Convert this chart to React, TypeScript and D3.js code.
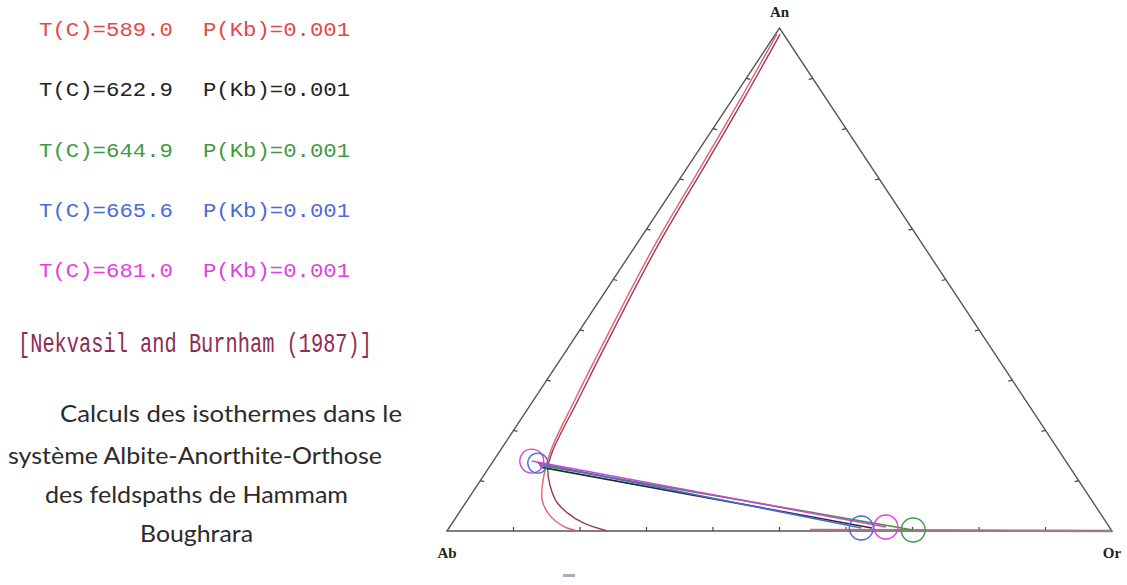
import React from 'react';
import * as d3 from 'd3';

// isotherm labels (T in C, P in kbar)
const temps = ['589.0', '622.9', '644.9', '665.6', '681.0'];
const pressures = ['0.001', '0.001', '0.001', '0.001', '0.001'];
const seriesColors = ['#e4474b', '#222222', '#3f9a3f', '#4a6cd4', '#e03fe0'];

// solvus curves, points as [An, Or] fractions
const curveOuter: [number, number][] = [
  [0.988, 0.002], [0.857, 0.012], [0.738, 0.019], [0.559, 0.029], [0.36, 0.05],
  [0.26, 0.062], [0.161, 0.076], [0.101, 0.094], [0.062, 0.112], [0.032, 0.138],
  [0.008, 0.173], [0, 0.197],
];
const curveInner: [number, number][] = [
  [0.988, 0.007], [0.857, 0.017], [0.738, 0.024], [0.559, 0.034], [0.36, 0.055],
  [0.26, 0.067], [0.161, 0.079], [0.121, 0.091], [0.062, 0.132], [0.036, 0.163],
  [0.016, 0.197], [0, 0.241],
];
// K-feldspar limb along the Ab-Or join
const orLimb: [number, number][] = [[0.002, 0.545], [0.001, 0.8], [0, 1]];

// tie lines: Ab-rich end -> Or-rich end
const tieNames = ['black', 'green', 'blue', 'magenta'];
const tieColors = ['#2a2a2a', '#3f9a3f', '#4a6cd4', '#d83fd8'];
const tieLeft: [number, number][] = [[0.127, 0.077], [0.131, 0.073], [0.135, 0.069], [0.139, 0.058]];
const tieRight: [number, number][] = [[0.006, 0.636], [0.002, 0.7], [0.006, 0.62], [0.008, 0.656]];

// circled compositions
const circlePts: [number, number][] = [[0.139, 0.058], [0.135, 0.069], [0.006, 0.62], [0.008, 0.656], [0.002, 0.7]];
const circleColors = ['#e03fe0', '#4a6cd4', '#4a6cd4', '#e03fe0', '#3f9a3f'];

const ticks = d3.range(0.1, 0.95, 0.1);

const textLines = [
  'Calculs des isothermes dans le',
  'système Albite-Anorthite-Orthose',
  'des feldspaths de Hammam',
  'Boughrara',
];

const W = 1127;
const H = 585;

export default function App() {
  const xs = d3.scaleLinear().domain([0, 1]).range([447, 1112]);
  const ys = d3.scaleLinear().domain([0, 1]).range([531, 28]);
  const px = (an: number, or: number) => xs(or + an / 2);
  const py = (an: number) => ys(an);

  const line = d3.line<[number, number]>()
    .x(d => px(d[0], d[1]))
    .y(d => py(d[0]))
    .curve(d3.curveCatmullRom.alpha(0.5));

  const Ab = [px(0, 0), py(0)];
  const Or = [px(0, 1), py(0)];
  const An = [px(1, 0), py(1)];

  // ticks on each edge, pointing inward
  const tickMarks: { x1: number; y1: number; x2: number; y2: number }[] = [];
  ticks.forEach(t => {
    tickMarks.push({ x1: px(0, t), y1: py(0), x2: px(0, t), y2: py(0) - 4 });
    const lx = px(t, 0), ly = py(t);
    tickMarks.push({ x1: lx, y1: ly, x2: lx + 4, y2: ly + 1 });
    const rx = px(t, 1 - t), ry = py(t);
    tickMarks.push({ x1: rx, y1: ry, x2: rx - 4, y2: ry + 1 });
  });

  return (
    <div style={{ position: 'absolute', left: 0, top: 0 }}>
      <svg width={W} height={H} style={{ display: 'block', background: '#fff' }}>
        {/* legend */}
        {temps.map((t, i) => (
          <g key={t} fill={seriesColors[i]} fontFamily="'Courier New', 'Liberation Mono', monospace" fontSize={21}>
            <text x={39} y={36 + i * 60.3} textLength={134} lengthAdjust="spacingAndGlyphs">{`T(C)=${t}`}</text>
            <text x={203} y={36 + i * 60.3} textLength={147} lengthAdjust="spacingAndGlyphs">{`P(Kb)=${pressures[i]}`}</text>
          </g>
        ))}
        <text x={18} y={352} fill="#8e2c55" fontFamily="'Courier New', 'Liberation Mono', monospace" fontSize={27}
          textLength={354} lengthAdjust="spacingAndGlyphs">[Nekvasil and Burnham (1987)]</text>

        {/* caption */}
        <g fill="#2b2b2b" fontFamily="Lato, 'Open Sans', sans-serif" fontSize={23}>
          <text x={60} y={422} textLength={342} lengthAdjust="spacingAndGlyphs">{textLines[0]}</text>
          <text x={8} y={464} textLength={374} lengthAdjust="spacingAndGlyphs">{textLines[1]}</text>
          <text x={45} y={503} textLength={303} lengthAdjust="spacingAndGlyphs">{textLines[2]}</text>
          <text x={140} y={542} textLength={113} lengthAdjust="spacingAndGlyphs">{textLines[3]}</text>
        </g>

        {/* triangle */}
        <path d={`M${Ab[0]},${Ab[1]}L${An[0]},${An[1]}L${Or[0]},${Or[1]}Z`} fill="none" stroke="#555" strokeWidth={1.4} />
        {tickMarks.map((t, i) => (
          <line key={i} x1={t.x1} y1={t.y1} x2={t.x2} y2={t.y2} stroke="#444" strokeWidth={1.2} />
        ))}
        <g fontFamily="'Liberation Serif', 'DejaVu Serif', serif" fontWeight="bold" fontSize={15} fill="#222" textAnchor="middle">
          <text x={An[0]} y={17}>An</text>
          <text x={Ab[0]} y={558}>Ab</text>
          <text x={Or[0]} y={558}>Or</text>
        </g>

        {/* solvus */}
        <path d={line(orLimb) || ''} fill="none" stroke="#a07880" strokeWidth={2.5} />
        <path d={line(curveOuter) || ''} fill="none" stroke="#e8606e" strokeWidth={1.4} />
        <path d={line(curveInner) || ''} fill="none" stroke="#9a3a55" strokeWidth={1.4} />

        {/* tie lines */}
        {tieNames.map((n, i) => (
          <line key={n}
            x1={px(tieLeft[i][0], tieLeft[i][1])} y1={py(tieLeft[i][0])}
            x2={px(tieRight[i][0], tieRight[i][1])} y2={py(tieRight[i][0])}
            stroke={tieColors[i]} strokeWidth={1.6} />
        ))}

        {/* circles */}
        {circlePts.map((c, i) => (
          <circle key={i} cx={px(c[0], c[1])} cy={py(c[0])} r={i === 1 ? 10 : 12}
            fill="none" stroke={circleColors[i]} strokeWidth={1.4} />
        ))}

        <rect x={563} y={574} width={12} height={3} fill="#a8b0c0" />
      </svg>
    </div>
  );
}
